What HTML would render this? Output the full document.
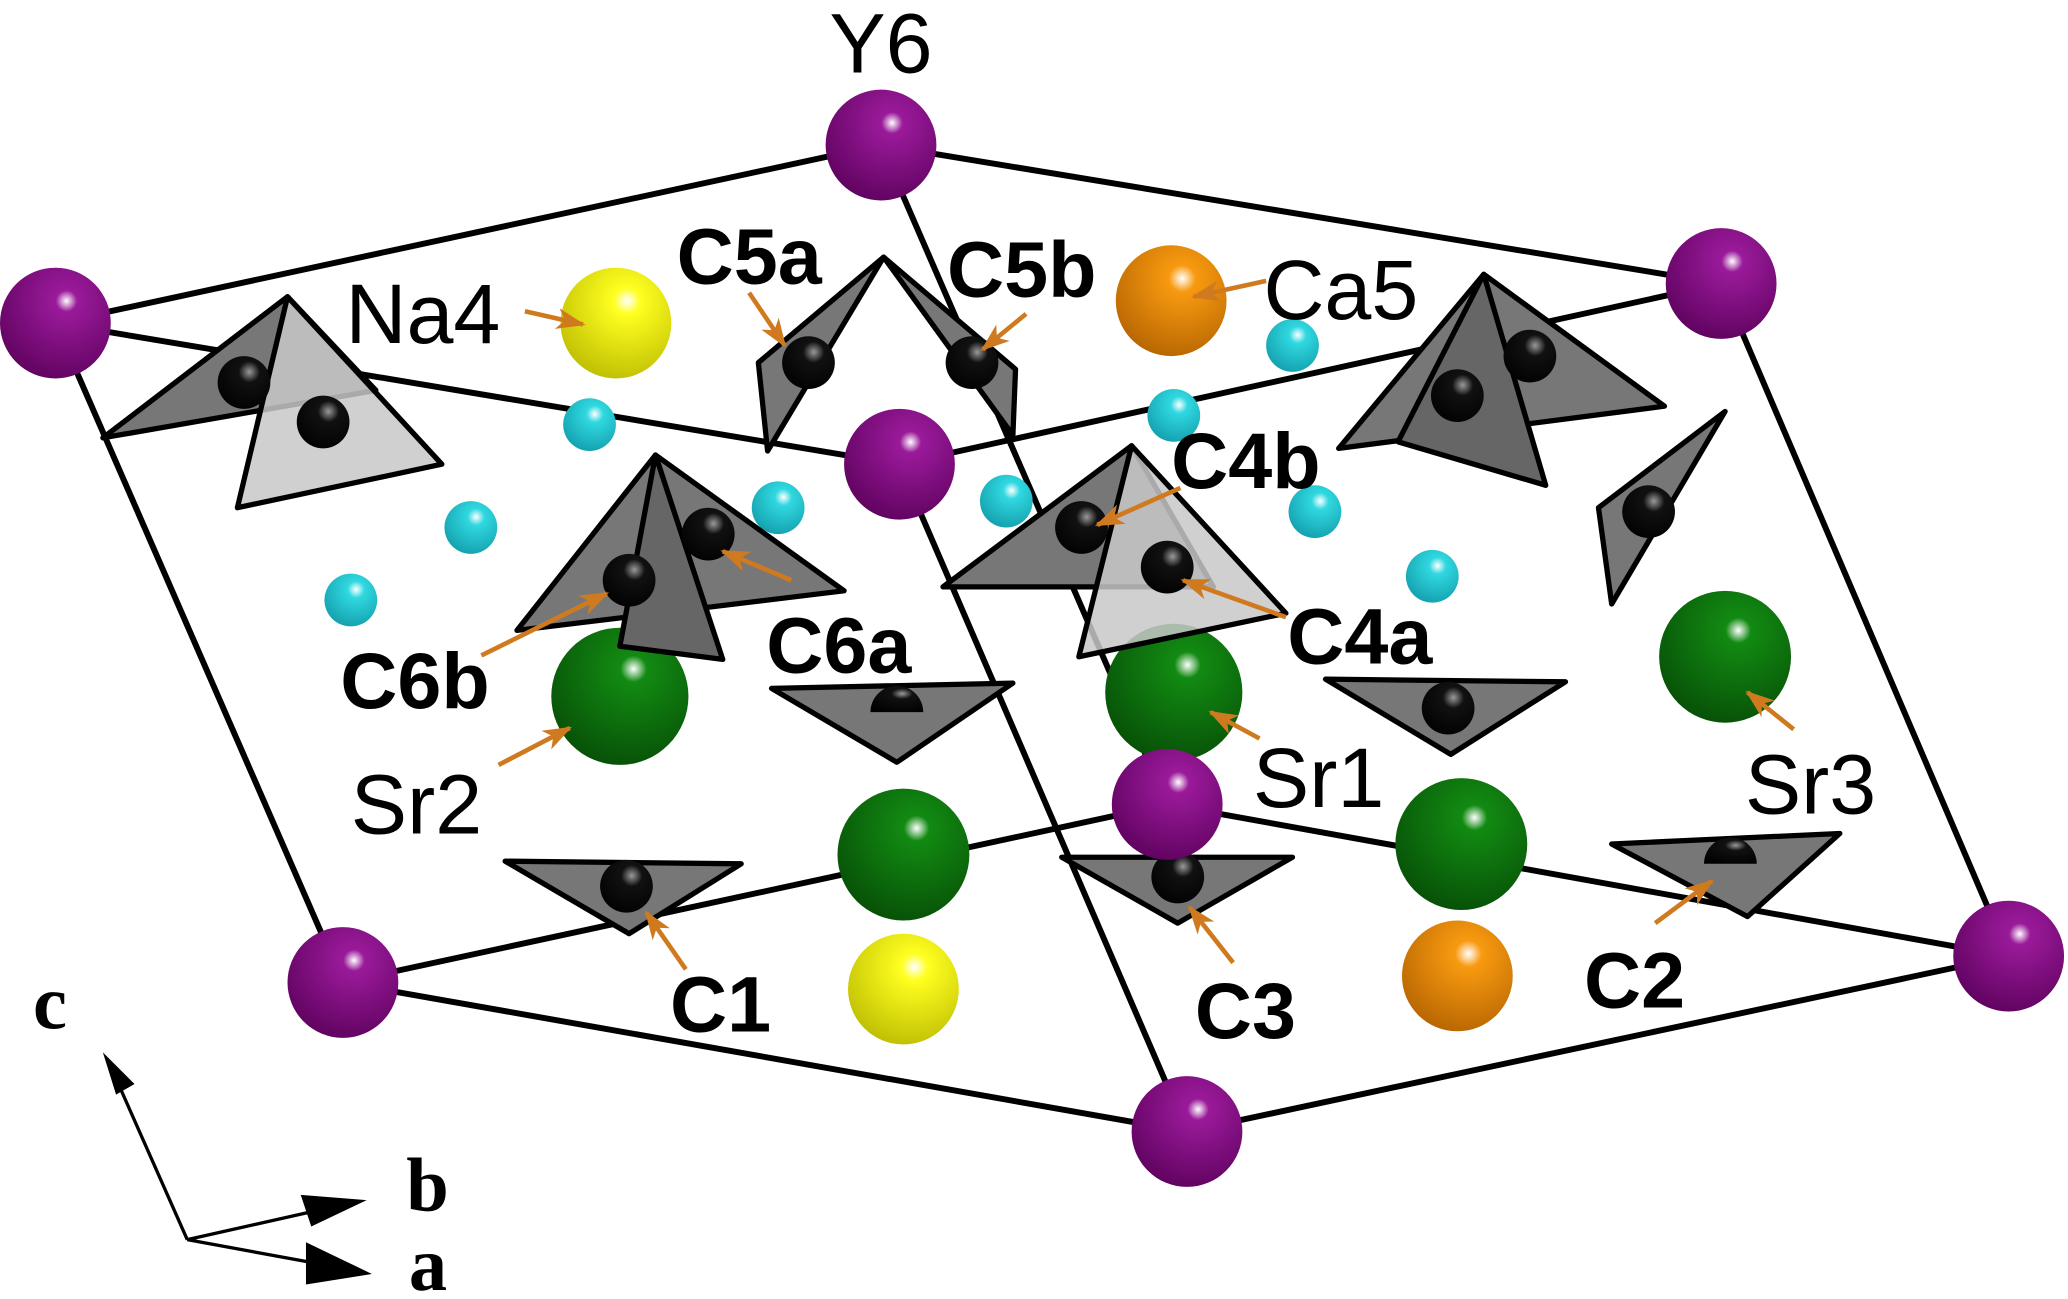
<!DOCTYPE html>
<html><head><meta charset="utf-8"><style>
html,body{margin:0;padding:0;background:#fff;}
svg{display:block;}
text{font-family:"Liberation Sans",Arial,sans-serif;}
</style></head><body>
<svg width="2068" height="1299" viewBox="0 0 1568 985" preserveAspectRatio="none" xmlns="http://www.w3.org/2000/svg">
<defs>
<radialGradient id="pu" cx="0.6" cy="0.3" r="0.8"><stop offset="0" stop-color="#fff"/><stop offset="0.12" stop-color="#9a1a9a"/><stop offset="1" stop-color="#5a005a"/></radialGradient>
<radialGradient id="gr" cx="0.6" cy="0.3" r="0.8"><stop offset="0" stop-color="#fff"/><stop offset="0.12" stop-color="#128a12"/><stop offset="1" stop-color="#064a06"/></radialGradient>
<radialGradient id="ye" cx="0.6" cy="0.3" r="0.8"><stop offset="0" stop-color="#fff"/><stop offset="0.15" stop-color="#ffff20"/><stop offset="1" stop-color="#b8b800"/></radialGradient>
<radialGradient id="or" cx="0.6" cy="0.3" r="0.8"><stop offset="0" stop-color="#fff"/><stop offset="0.15" stop-color="#f89a10"/><stop offset="1" stop-color="#b06000"/></radialGradient>
<radialGradient id="cy" cx="0.6" cy="0.3" r="0.8"><stop offset="0" stop-color="#fff"/><stop offset="0.2" stop-color="#30d8e0"/><stop offset="1" stop-color="#109aa8"/></radialGradient>
<radialGradient id="bk" cx="0.6" cy="0.3" r="0.8"><stop offset="0" stop-color="#999"/><stop offset="0.25" stop-color="#111"/><stop offset="1" stop-color="#000"/></radialGradient>
<marker id="ar" markerWidth="22" markerHeight="16" refX="20" refY="8" orient="auto" markerUnits="userSpaceOnUse" viewBox="0 0 22 16"><path d="M0,0 L22,8 L0,16 L6,8z" fill="#d07a20"/></marker>
</defs>
<g stroke="#000" stroke-width="4.5" fill="none">
<line x1="668" y1="110" x2="42" y2="245"/>
<line x1="668" y1="110" x2="1305" y2="215"/>
<line x1="42" y1="245" x2="682" y2="352"/>
<line x1="682" y1="352" x2="1305" y2="215"/>
<line x1="42" y1="245" x2="260" y2="745"/>
<line x1="1305" y1="215" x2="1523" y2="725"/>
<line x1="668" y1="110" x2="885" y2="610"/>
<line x1="682" y1="352" x2="900" y2="858"/>
<line x1="260" y1="745" x2="885" y2="610"/>
<line x1="885" y1="610" x2="1523" y2="725"/>
<line x1="260" y1="745" x2="900" y2="858"/>
<line x1="900" y1="858" x2="1523" y2="725"/>
</g>
<g fill="url(#cy)">
<circle cx="447" cy="322" r="20"/><circle cx="357" cy="400" r="20"/><circle cx="266" cy="455" r="20"/><circle cx="590" cy="385" r="20"/><circle cx="763" cy="380" r="20"/><circle cx="890" cy="315" r="20"/><circle cx="980" cy="262" r="20"/><circle cx="997" cy="388" r="20"/><circle cx="1086" cy="437" r="20"/>
</g>
<circle cx="467" cy="245" r="42" fill="url(#ye)"/>
<circle cx="685" cy="750" r="42" fill="url(#ye)"/>
<circle cx="888" cy="228" r="42" fill="url(#or)"/>
<circle cx="1105" cy="740" r="42" fill="url(#or)"/>
<circle cx="470" cy="528" r="52" fill="url(#gr)"/>
<circle cx="685" cy="648" r="50" fill="url(#gr)"/>
<circle cx="890" cy="525" r="52" fill="url(#gr)"/>
<circle cx="1108" cy="640" r="50" fill="url(#gr)"/>
<circle cx="1308" cy="498" r="50" fill="url(#gr)"/>
<g stroke="#000" stroke-width="4" stroke-linejoin="round">
<polygon points="78,332 218,225 285,296" fill="#777"/>
<polygon points="180,385 218,225 335,352" fill="#c8c8c8" fill-opacity="0.85"/>
<polygon points="575,275 670,195 582,342" fill="#777"/>
<polygon points="670,195 770,280 768,330" fill="#777"/>
<polygon points="392,478 497,345 640,448" fill="#777"/>
<polygon points="497,345 548,500 470,490" fill="#666"/>
<polygon points="715,445 858,338 920,445" fill="#777"/>
<polygon points="818,498 858,338 975,465" fill="#c8c8c8" fill-opacity="0.85"/>
<polygon points="1015,340 1125,208 1262,308" fill="#777"/>
<polygon points="1125,208 1172,368 1060,335" fill="#666"/>
<polygon points="1212,385 1308,312 1222,458" fill="#777"/>
<polygon points="585,522 768,518 680,578" fill="#777"/>
<polygon points="383,653 562,655 477,708" fill="#777"/>
<polygon points="805,650 980,650 893,700" fill="#777"/>
<polygon points="1005,515 1187,517 1100,572" fill="#777"/>
<polygon points="1222,640 1395,632 1325,695" fill="#777"/>
</g>
<g fill="url(#bk)">
<circle cx="185" cy="290" r="20"/><circle cx="245" cy="320" r="20"/><circle cx="613" cy="275" r="20"/><circle cx="737" cy="275" r="20"/><circle cx="477" cy="440" r="20"/><circle cx="537" cy="405" r="20"/><circle cx="820" cy="400" r="20"/><circle cx="885" cy="430" r="20"/><circle cx="1105" cy="300" r="20"/><circle cx="1160" cy="270" r="20"/><circle cx="1250" cy="388" r="20"/><circle cx="475" cy="672" r="20"/><circle cx="893" cy="665" r="20"/><circle cx="1098" cy="537" r="20"/>
<path d="M660,540 a20,20 0 0 1 40,0z"/><path d="M1292,655 a20,20 0 0 1 40,0z"/>
</g>
<g fill="url(#pu)">
<circle cx="668" cy="110" r="42"/><circle cx="42" cy="245" r="42"/><circle cx="1305" cy="215" r="42"/><circle cx="682" cy="352" r="42"/><circle cx="885" cy="610" r="42"/><circle cx="260" cy="745" r="42"/><circle cx="1523" cy="725" r="42"/><circle cx="900" cy="858" r="42"/>
</g>
<g stroke="#d07a20" stroke-width="3.5" marker-end="url(#ar)">
<line x1="398" y1="236" x2="442" y2="246"/>
<line x1="568" y1="222" x2="595" y2="262"/>
<line x1="778" y1="238" x2="745" y2="265"/>
<line x1="960" y1="213" x2="905" y2="225"/>
<line x1="895" y1="370" x2="832" y2="398"/>
<line x1="975" y1="468" x2="897" y2="440"/>
<line x1="365" y1="497" x2="460" y2="450"/>
<line x1="600" y1="440" x2="548" y2="418"/>
<line x1="378" y1="580" x2="432" y2="552"/>
<line x1="955" y1="560" x2="918" y2="540"/>
<line x1="1360" y1="553" x2="1325" y2="525"/>
<line x1="520" y1="735" x2="490" y2="692"/>
<line x1="935" y1="730" x2="902" y2="688"/>
<line x1="1255" y1="700" x2="1298" y2="668"/>
</g>
<g font-size="64" fill="#000">
<text x="668" y="55" text-anchor="middle">Y6</text>
<text x="262" y="260">Na4</text>
<text x="958" y="242">Ca5</text>
<text x="266" y="632">Sr2</text>
<text x="950" y="612">Sr1</text>
<text x="1323" y="617">Sr3</text>
</g>
<g font-size="60" font-weight="bold" fill="#000">
<text x="513" y="215">C5a</text>
<text x="718" y="225">C5b</text>
<text x="888" y="370">C4b</text>
<text x="976" y="503">C4a</text>
<text x="258" y="537">C6b</text>
<text x="581" y="510">C6a</text>
<text x="508" y="782">C1</text>
<text x="906" y="787">C3</text>
<text x="1201" y="764">C2</text>
</g>
<g stroke="#000" stroke-width="2.5">
<line x1="142" y1="940" x2="88" y2="818"/>
<line x1="142" y1="940" x2="240" y2="918"/>
<line x1="142" y1="940" x2="240" y2="958"/>
</g>
<polygon points="78,798 102,822 88,830" fill="#000"/>
<polygon points="228,906 278,910 236,930" fill="#000"/>
<polygon points="232,942 282,966 232,974" fill="#000"/>
<g font-weight="bold" font-size="58" fill="#000">
<text x="25" y="780" style="font-family:'Liberation Serif',serif">c</text>
<text x="308" y="918" style="font-family:'Liberation Serif',serif">b</text>
<text x="310" y="978" style="font-family:'Liberation Serif',serif">a</text>
</g>
</svg>
</body></html>
